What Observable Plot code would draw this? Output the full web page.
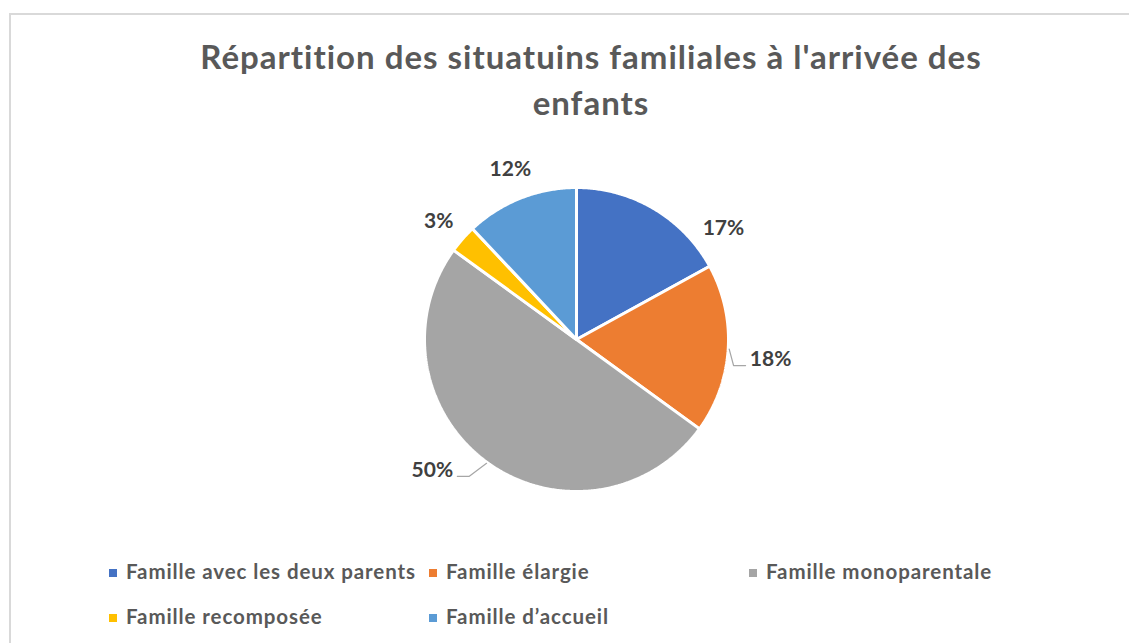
<!DOCTYPE html>
<html>
<head>
<meta charset="utf-8">
<script src="https://cdn.jsdelivr.net/npm/d3@7"></script>
<script src="https://cdn.jsdelivr.net/npm/@observablehq/plot@0.6"></script>
<style>
  html, body { margin: 0; padding: 0; background: #fff; width: 1129px; height: 643px; overflow: hidden; }
  #frame { position: absolute; left: 9px; top: 13px; width: 1200px; height: 700px; border: 2px solid #d9d9d9; box-sizing: border-box; }
  #chart { position: absolute; left: 0; top: 0; }
  #title { position: absolute; left: 0; top: 33px; width: 1182px; text-align: center; font-family: Lato, "Open Sans", sans-serif; font-weight: 700; font-size: 33px; letter-spacing: 1px; line-height: 46px; color: #595959; }
  #legend { position: absolute; left: 110px; top: 549px; font-family: Lato, "Open Sans", sans-serif; font-weight: 700; font-size: 20.5px; letter-spacing: 0.9px; color: #595959; }
  .item { position: absolute; white-space: nowrap; height: 44px; line-height: 44px; }
  .sw { display: inline-block; width: 8px; height: 8px; margin-right: 9px; vertical-align: 2px; }
</style>
</head>
<body>
<div id="frame"></div>
<div id="chart"></div>
<div id="title">Répartition des situatuins familiales à l'arrivée des<br>enfants</div>
<div id="legend"></div>
<script>
// ---- data ----
const categories = ["Famille avec les deux parents", "Famille élargie", "Famille monoparentale", "Famille recomposée", "Famille d’accueil"];
const values = [17, 18, 50, 3, 12];
const colors = ["#4472C4", "#ED7D31", "#A5A5A5", "#FFC000", "#5B9BD5"];

// ---- layout (not data) ----
const W = 1129, H = 643;
const cx = 576, cy = 339, R = 152;
const labelShift = [22, 2, 12, -0.6, 0.4];   // degrees, Excel "best fit" drift from mid-angle
const labelDist = [185, 195, 194, 182, 183];
const withLeader = [false, true, true, false, false];
const fontSize = 21;

const table = categories.map((c, i) => ({category: c, value: values[i]}));
const total = d3.sum(values);
const arcs = d3.pie().sort(null).value(d => d.value)(table);

const px = (a, r) => cx + r * Math.sin(a);
const py = (a, r) => cy - r * Math.cos(a);

// slice outlines
const slicePts = [];
arcs.forEach(a => {
  slicePts.push({category: a.data.category, x: cx, y: cy});
  const n = Math.max(4, Math.ceil((a.endAngle - a.startAngle) / (Math.PI / 360)));
  for (let k = 0; k <= n; k++) {
    const t = a.startAngle + (a.endAngle - a.startAngle) * k / n;
    slicePts.push({category: a.data.category, x: px(t, R), y: py(t, R)});
  }
});

// labels
const labels = arcs.map((a, i) => {
  const mid = (a.startAngle + a.endAngle) / 2;
  const ang = mid + labelShift[i] * Math.PI / 180;
  const x = px(ang, labelDist[i]);
  const yc = py(ang, labelDist[i]);
  return {category: a.data.category, mid, x, yc, base: yc + 7.5,
          text: Math.round(a.data.value / total * 100) + "%"};
});

// leader lines
const leaders = [];
labels.forEach((l, i) => {
  if (!withLeader[i]) return;
  const side = l.x > cx ? -1 : 1;
  const endX = l.x + side * 25;
  const elbowX = endX + side * 12;
  const yy = l.base - 0.5;
  leaders.push({k: i, x: px(l.mid, R + 1), y: py(l.mid, R + 1)});
  leaders.push({k: i, x: elbowX, y: yy});
  leaders.push({k: i, x: endX, y: yy});
});

const plot = Plot.plot({
  width: W, height: H, margin: 0,
  x: {domain: [0, W], range: [0, W], axis: null},
  y: {domain: [0, H], range: [0, H], axis: null},
  color: {domain: categories, range: colors},
  style: {background: "transparent", overflow: "visible"},
  marks: [
    Plot.line(slicePts, {x: "x", y: "y", z: "category", fill: "category", stroke: "white", strokeWidth: 3, strokeLinejoin: "miter", curve: "linear-closed"}),
    Plot.line(leaders, {x: "x", y: "y", z: "k", stroke: "#a6a6a6", strokeWidth: 1.2}),
    Plot.text(labels, {x: "x", y: "base", text: "text", lineAnchor: "bottom", textAnchor: "middle",
      fontFamily: "Lato, 'Open Sans', sans-serif", fontWeight: 700, fontSize: fontSize, fill: "#404040"})
  ]
});
document.getElementById("chart").appendChild(plot);

// legend
const legendCols = 320, legendRows = 45, perRow = 3;
const legend = document.getElementById("legend");
categories.forEach((c, i) => {
  const d = document.createElement("div");
  d.className = "item";
  d.style.left = ((i % perRow) * legendCols - 1) + "px";
  d.style.top = (Math.floor(i / perRow) * legendRows) + "px";
  const sw = document.createElement("span");
  sw.className = "sw";
  sw.style.background = colors[i];
  d.appendChild(sw);
  d.appendChild(document.createTextNode(c));
  legend.appendChild(d);
});
</script>
</body>
</html>
